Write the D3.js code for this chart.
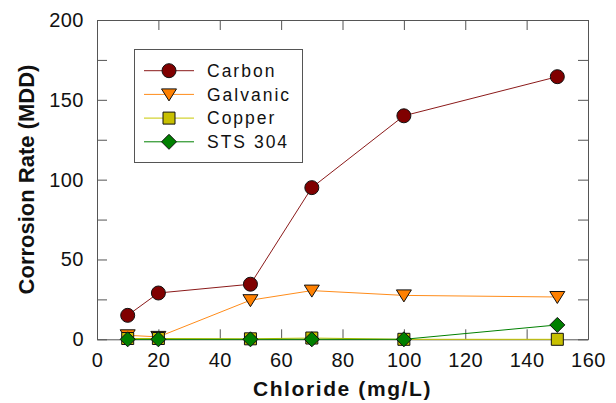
<!DOCTYPE html>
<html>
<head>
<meta charset="utf-8">
<script src="https://cdn.jsdelivr.net/npm/d3@7"></script>
<style>
  body { margin: 0; background: #fff; }
  svg { font-family: Arial, "Liberation Sans", sans-serif; }
</style>
</head>
<body>
<svg id="chart" width="616" height="403"></svg>
<script>
// values
const chloride = [10, 20, 50, 70, 100, 150];
const carbon   = [15, 29, 34.5, 95, 140, 164.5];
const galvanic = [2.5, 1.5, 24.5, 30.5, 27.5, 26.5];
const copper   = [0.5, 0.5, 0.3, 0.8, 0, 0];
const sts304   = [0, 0, 0, 0, 0, 9];

const xTicks = [0, 20, 40, 60, 80, 100, 120, 140, 160];
const yTicks = [0, 25, 50, 75, 100, 125, 150, 175, 200];

const seriesNames = ["Carbon", "Galvanic", "Copper", "STS 304"];
const seriesValues = [carbon, galvanic, copper, sts304];

const series = seriesNames.map((name, i) => ({
  name: name,
  values: chloride.map((c, j) => ({x: c, y: seriesValues[i][j]}))
}));

const styles = {
  "Carbon":   {line: "#8b1a1a", fill: "#800000", shape: "circle"},
  "Galvanic": {line: "#ff8c1a", fill: "#ff8000", shape: "triangle"},
  "Copper":   {line: "#c8c800", fill: "#c8c000", shape: "square"},
  "STS 304":  {line: "#008000", fill: "#008000", shape: "diamond"}
};

const svg = d3.select("#chart");
const margin = {top: 20, right: 28, bottom: 63.7, left: 97};
const width = 616 - margin.left - margin.right;
const height = 403 - margin.top - margin.bottom;
const g = svg.append("g")
  .attr("transform", `translate(${margin.left},${margin.top})`);

const x = d3.scaleLinear().domain([0, 160]).range([0, width]);
const y = d3.scaleLinear().domain([0, 200]).range([height, 0]);

// marker shapes, centred on 0,0
function shapePath(shape) {
  if (shape === "circle") return "M7,0A7,7 0 1,1 -7,0A7,7 0 1,1 7,0Z";
  if (shape === "triangle") return "M-7.5,-5.5L7.5,-5.5L0,6.5Z";
  if (shape === "square") return "M-6,-6L6,-6L6,6L-6,6Z";
  return "M0,-7.5L7.5,0L0,7.5L-7.5,0Z";
}

const tickColor = "#555";

// axes with inward ticks, mirrored on top and right
const xAxis = g.append("g")
  .attr("transform", `translate(0,${height})`)
  .call(d3.axisBottom(x).tickValues(xTicks).tickSizeInner(-10).tickSizeOuter(0).tickPadding(14));
const yAxis = g.append("g")
  .call(d3.axisLeft(y).tickValues(yTicks).tickSizeInner(-10).tickSizeOuter(0).tickPadding(13)
    .tickFormat(d => d % 50 === 0 ? d : ""));
const xTop = g.append("g")
  .call(d3.axisTop(x).tickValues(xTicks).tickSizeInner(-10).tickSizeOuter(0).tickFormat(""));
const yRight = g.append("g")
  .attr("transform", `translate(${width},0)`)
  .call(d3.axisRight(y).tickValues(yTicks).tickSizeInner(-10).tickSizeOuter(0).tickFormat(""));

[xAxis, yAxis, xTop, yRight].forEach(a => {
  a.select(".domain").attr("stroke", tickColor);
  a.selectAll(".tick line").attr("stroke", tickColor);
  a.selectAll(".tick text")
    .attr("fill", "#111")
    .style("font-size", "20px")
    .style("letter-spacing", "0.5px");
});

// series lines and markers
const line = d3.line().x(d => x(d.x)).y(d => y(d.y));

series.forEach(s => {
  const st = styles[s.name];
  g.append("path")
    .datum(s.values)
    .attr("fill", "none")
    .attr("stroke", st.line)
    .attr("stroke-width", 1)
    .attr("d", line);
  g.selectAll(null)
    .data(s.values)
    .join("path")
    .attr("transform", d => `translate(${x(d.x)},${y(d.y)})`)
    .attr("d", shapePath(st.shape))
    .attr("fill", st.fill)
    .attr("stroke", "#111")
    .attr("stroke-width", 1);
});

// legend
const legend = svg.append("g").attr("transform", "translate(134.5,49.5)");
legend.append("rect")
  .attr("width", 168)
  .attr("height", 113)
  .attr("fill", "#fff")
  .attr("stroke", tickColor);

const rows = legend.selectAll("g.row")
  .data(series)
  .join("g")
  .attr("class", "row")
  .attr("transform", (d, i) => `translate(0,${21.2 + i * 23.7})`);
rows.append("line")
  .attr("x1", 9.5).attr("x2", 59.5)
  .attr("stroke", d => styles[d.name].line);
rows.append("path")
  .attr("transform", "translate(34.5,0)")
  .attr("d", d => shapePath(styles[d.name].shape))
  .attr("fill", d => styles[d.name].fill)
  .attr("stroke", "#111");
rows.append("text")
  .attr("x", 72.5)
  .attr("dy", "0.36em")
  .attr("fill", "#111")
  .style("font-size", "17.5px")
  .style("letter-spacing", "2px")
  .text(d => d.name);

// axis titles
svg.append("text")
  .attr("x", margin.left + width / 2)
  .attr("y", 396)
  .attr("text-anchor", "middle")
  .attr("fill", "#111")
  .style("font-size", "21px")
  .style("font-weight", "bold")
  .style("letter-spacing", "1.6px")
  .text("Chloride (mg/L)");

svg.append("text")
  .attr("transform", "translate(34,179.5) rotate(-90)")
  .attr("text-anchor", "middle")
  .attr("fill", "#111")
  .style("font-size", "22px")
  .style("font-weight", "bold")
  .text("Corrosion Rate (MDD)");
</script>
</body>
</html>
